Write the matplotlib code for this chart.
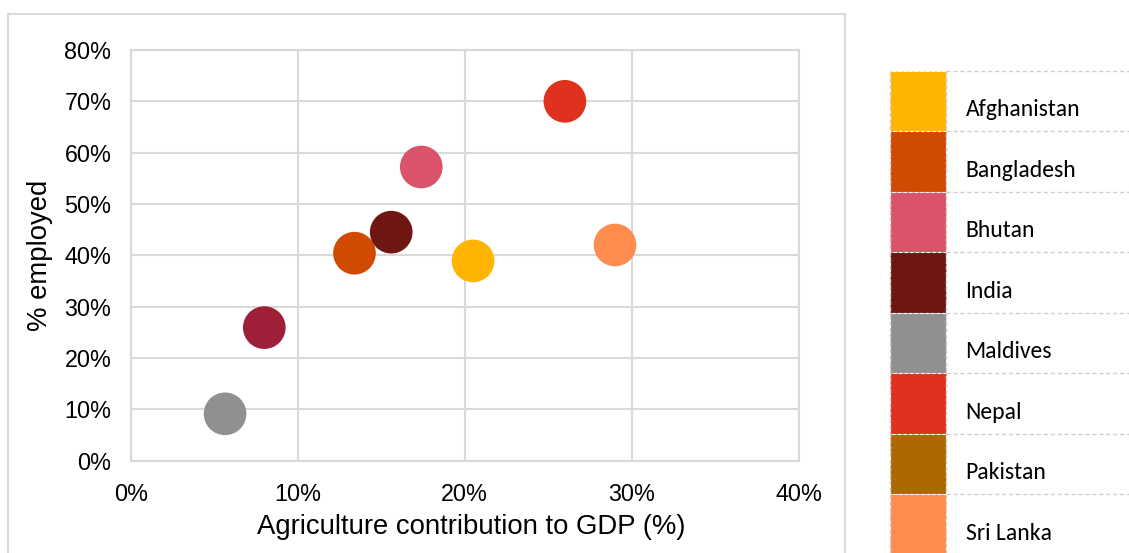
import numpy as np
import matplotlib
matplotlib.use("Agg")
import matplotlib.pyplot as plt
from matplotlib.patches import Rectangle
from matplotlib.lines import Line2D

# Agriculture share of GDP vs share of workforce employed in agriculture
countries = ["Afghanistan", "Bangladesh", "Bhutan", "India", "Maldives",
             "Nepal", "Pakistan", "Sri Lanka", "Other"]
gdp_share = [20.5, 13.4, 17.4, 15.6, 5.65, 26.0, np.nan, 29.0, 8.0]
employed_share = [38.9, 40.4, 57.2, 44.5, 9.1, 70.0, np.nan, 42.0, 25.9]
colors = ["#FFB400", "#D04A02", "#DB536A", "#6E1711", "#909090",
          "#E0301E", "#AD6800", "#FD8C4E", "#9E2038"]

x_ticks = [0, 10, 20, 30, 40]
y_ticks = [0, 10, 20, 30, 40, 50, 60, 70, 80]

W, H = 1129, 553
fig = plt.figure(figsize=(W / 100, H / 100), dpi=100)
fig.patch.set_facecolor("white")

grid_c = "#D9D9D9"
num_font = ["Liberation Sans", "DejaVu Sans"]
leg_font = ["Carlito", "Lato", "DejaVu Sans"]

# chart frame (bottom edge runs past the canvas)
fig.add_artist(Rectangle((8 / W, -0.2), (845 - 8) / W, 1.2 - 14 / H,
                         transform=fig.transFigure, fill=False,
                         edgecolor=grid_c, linewidth=1.5, zorder=0))

ax = fig.add_axes([130.7 / W, (H - 460.5) / H, 668 / W, 410.5 / H])
ax.set_xlim(0, 40)
ax.set_ylim(0, 80)
ax.set_xticks(x_ticks)
ax.set_yticks(y_ticks)
ax.set_xticklabels([f"{t}%" for t in x_ticks], fontsize=16.8, family=num_font)
ax.set_yticklabels([f"{t}%" for t in y_ticks], fontsize=16.8, family=num_font)
ax.tick_params(length=0, colors="#000000")
ax.tick_params(axis="x", pad=16)
ax.tick_params(axis="y", pad=14)
ax.grid(True, color=grid_c, linewidth=1.5)
ax.set_axisbelow(True)
for s in ax.spines.values():
    s.set_color(grid_c)
    s.set_linewidth(1.5)

for name, gx, ey, c in zip(countries, gdp_share, employed_share, colors):
    if np.isnan(gx):
        continue
    ax.scatter([gx], [ey], s=944, color=c, edgecolors="none", zorder=3,
               clip_on=False)

ax.set_xlabel("Agriculture contribution to GDP (%)", fontsize=19.8,
              family=num_font)
ax.set_ylabel("% employed", fontsize=19.8, family=num_font)
ax.xaxis.set_label_coords((471.5 - 130.7) / 668, -(527 - 460.5) / 410.5)
ax.xaxis.label.set_va("center")
ax.yaxis.set_label_coords(-(130.7 - 40) / 668, 0.5)
ax.yaxis.label.set_va("center")

# legend column: one swatch per row with dashed separators
row_top = 70.7
row_h = 60.5
sw_l, sw_r = 890, 945.5
leg_line = "#CFCFCF"
for i, (name, c) in enumerate(zip(countries, colors)):
    top = row_top + i * row_h
    if top >= H:
        break
    y0 = (H - top - row_h) / H
    fig.add_artist(Rectangle((sw_l / W, y0), (sw_r - sw_l) / W, row_h / H,
                             transform=fig.transFigure, facecolor=c,
                             edgecolor="white", linewidth=0.8,
                             linestyle=(0, (3, 2)), zorder=2))
    fig.add_artist(Line2D([sw_r / W, 1.0], [(H - top) / H] * 2,
                          transform=fig.transFigure, color=leg_line,
                          linewidth=1.0, linestyle=(0, (3, 2)), zorder=1))
    fig.text(965.5 / W, (H - (top + row_h / 2 + 9)) / H, name,
             fontsize=17, family=leg_font, color="#000000",
             ha="left", va="center")
# vertical dashed edges of the swatch column
for xv in (sw_l - 0.5, sw_r):
    fig.add_artist(Line2D([xv / W] * 2, [-0.1, (H - row_top) / H],
                          transform=fig.transFigure, color=leg_line,
                          linewidth=1.0, linestyle=(0, (3, 2)), zorder=3))

fig.savefig("out.png", dpi=100, facecolor="white")
